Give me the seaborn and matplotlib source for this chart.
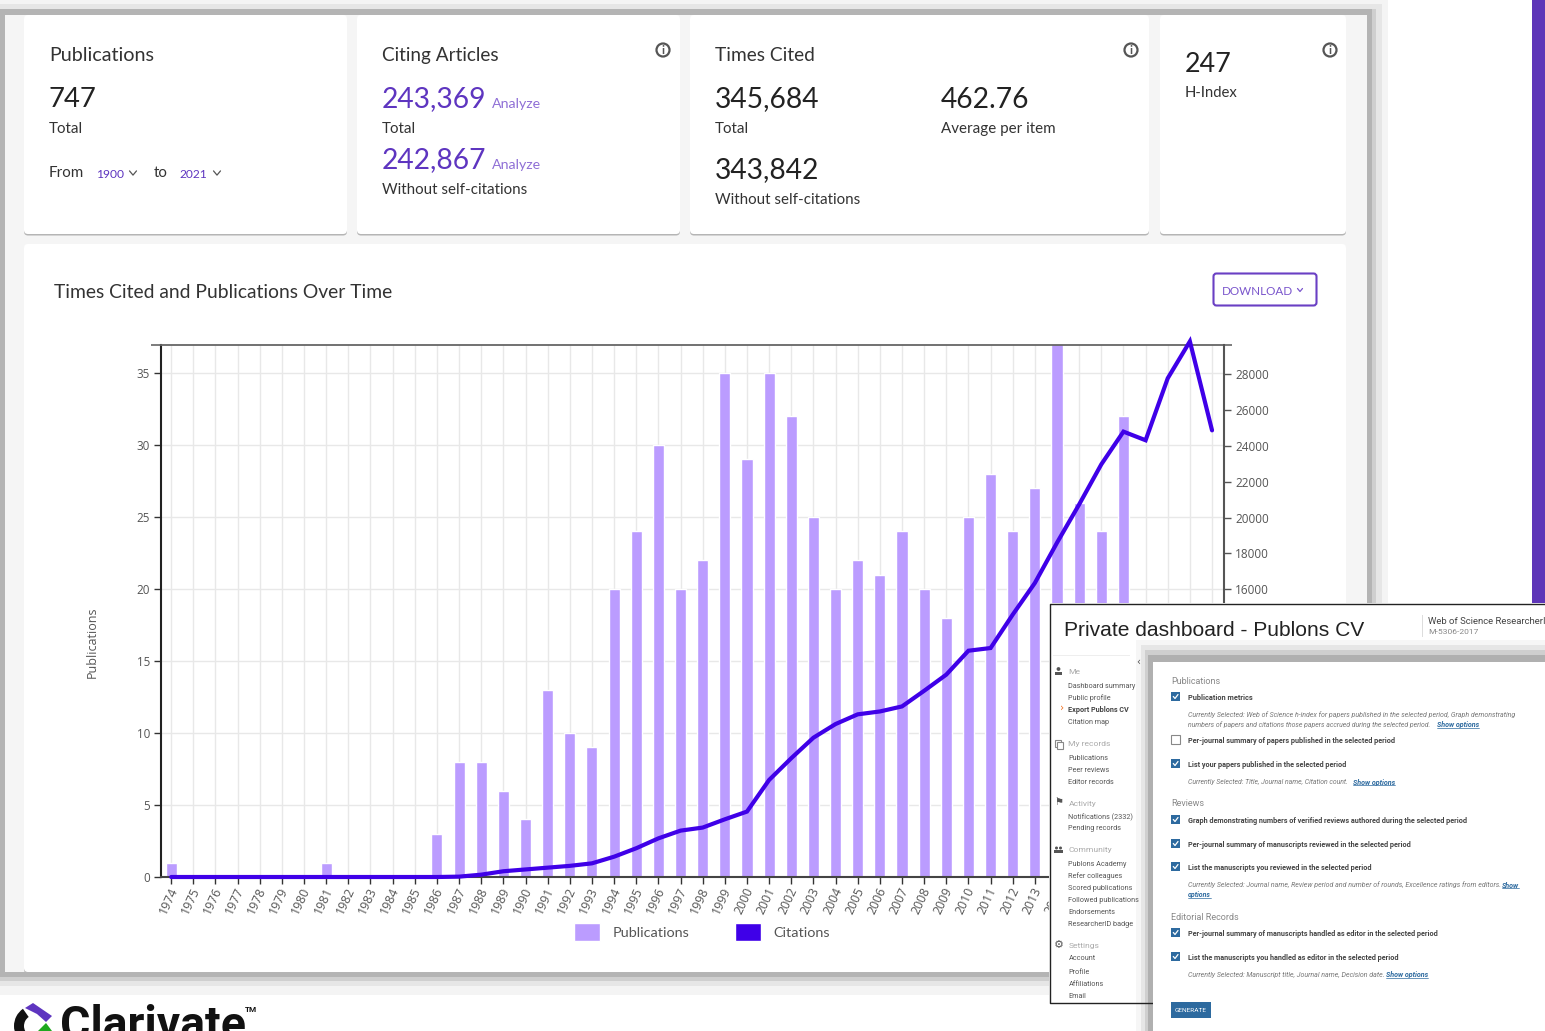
import numpy as np
import pandas as pd
import matplotlib
matplotlib.use("Agg")
import matplotlib.pyplot as plt
from matplotlib.patches import Rectangle, FancyBboxPatch, Circle, Polygon, Wedge, Patch
from matplotlib.transforms import ScaledTranslation
import seaborn as sns

years = [str(y) for y in range(1974, 2022)]
publications = [1, 0, 0, 0, 0, 0, 0, 1, 0, 0, 0, 0, 3, 8, 8, 6, 4, 13, 10, 9,
                20, 24, 30, 20, 22, 35, 29, 35, 32, 25, 20, 22, 21, 24, 20, 18,
                25, 28, 24, 27, 40, 26, 24, 32, 16, 18, 15, 12]
citations = [0, 0, 0, 0, 0, 0, 0, 0, 0, 0, 0, 0, 0, 20, 130, 320, 420, 520, 620, 760,
             1130, 1600, 2150, 2580, 2750, 3210, 3640, 5400, 6610, 7750, 8510, 9050,
             9210, 9490, 10360, 11260, 12590, 12740, 14600, 16360, 18600, 20730,
             22960, 24780, 24300, 27750, 29800, 24850]

W, H = 1545, 1031
PUB_COL, CIT_COL = "#BB9CFF", "#3F00E8"
PURPLE = "#5E35C0"
SANS = "Lato"

sns.set_theme(style="white")
plt.rcParams["font.family"] = ["Open Sans", "DejaVu Sans"]
fig = plt.figure(figsize=(W / 100, H / 100), dpi=100, facecolor="white")


def px_axes(z):
    a = fig.add_axes([0, 0, 1, 1], zorder=z)
    a.set_xlim(0, W)
    a.set_ylim(H, 0)
    a.axis("off")
    a.patch.set_alpha(0)
    return a


bg = px_axes(0)
fg = px_axes(10)
renderer = fig.canvas.get_renderer()


def T(a, x, y, s, size, color="#333333", w=None, family=SANS, **kw):
    if family == SANS:
        y += size * 0.09
    elif family == "Roboto" and "va" not in kw:
        y += 1
    t = a.text(x, y, s, fontsize=size * 0.72, color=color, family=family,
               va=kw.pop("va", "center"), ha=kw.pop("ha", "left"), **kw)
    if w is not None:
        ext = t.get_window_extent(renderer)
        t.set_fontsize(t.get_fontsize() * w / ext.width)
    return t


def R(a, x0, y0, x1, y1, color, z=1, **kw):
    a.add_patch(Rectangle((x0, y0), x1 - x0, y1 - y0, fc=color, ec="none", zorder=z, **kw))


def card(a, x0, y0, x1, y1):
    a.add_patch(FancyBboxPatch((x0, y0 + 1.5), x1 - x0, y1 - y0, boxstyle="round,pad=0,rounding_size=4",
                               fc="#b5b5b5", ec="none", zorder=2))
    a.add_patch(FancyBboxPatch((x0, y0), x1 - x0, y1 - y0, boxstyle="round,pad=0,rounding_size=4",
                               fc="white", ec="none", zorder=3))


def chevron(a, cx, cy, color, s=3.5):
    a.plot([cx - s, cx, cx + s], [cy - s * 0.6, cy + s * 0.6, cy - s * 0.6], color=color, lw=0.9, zorder=6)


def info(a, cx, cy):
    a.add_patch(Circle((cx, cy), 6.5, fc="white", ec="#555555", lw=1.6, zorder=5))
    T(a, cx, cy - 0.5, "i", 12, "#555555", ha="center", zorder=6, weight="bold")


# main panel with pixelated shadow
for (x0, y0, x1, y1, c) in [
    (0, 0, 1388, 995, "#f4f4f4"), (0, 4, 1382, 986, "#e6e6e6"),
    (0, 9, 1376, 981, "#cfcfcf"), (0, 9, 1372, 977, "#b4b4b4"),
]:
    R(bg, x0, y0, x1, y1, c, 1)
R(bg, 5, 15, 1367, 972, "#f5f5f5", 1.5)

for box in [(24, 15, 347, 234), (357, 15, 680, 234), (690, 15, 1149, 234),
            (1160, 15, 1346, 234), (24, 244, 1346, 972)]:
    card(bg, *box)

R(bg, 1532, 0, 1545, 603, "#5E35B8", 1)

# summary cards
z = {"zorder": 6}
T(bg, 49, 54, "Publications", 20, w=105, **z)
T(bg, 49, 97, "747", 31, "#222222", w=48, **z)
T(bg, 49, 128, "Total", 16, w=34, **z)
T(bg, 49, 172, "From", 16, w=35, **z)
T(bg, 96, 173, "1900", 13, PURPLE, w=28, **z)
chevron(bg, 133, 173, "#555555")
T(bg, 154, 172, "to", 16, w=14, **z)
T(bg, 179, 173, "2021", 13, PURPLE, w=28, **z)
chevron(bg, 217, 173, "#555555")

T(bg, 382, 54, "Citing Articles", 20, w=117, **z)
T(bg, 382, 96, "243,369", 31, PURPLE, w=105, **z)
T(bg, 492, 103, "Analyze", 15, "#8f6fd6", w=49, **z)
T(bg, 382, 128, "Total", 16, w=34, **z)
T(bg, 382, 157, "242,867", 31, PURPLE, w=105, **z)
T(bg, 492, 164, "Analyze", 15, "#8f6fd6", w=49, **z)
T(bg, 382, 189, "Without self-citations", 16, w=145, **z)
info(bg, 663, 50)

T(bg, 715, 54, "Times Cited", 20, w=100, **z)
T(bg, 715, 96, "345,684", 31, "#222222", w=105, **z)
T(bg, 941, 97, "462.76", 31, "#222222", w=89, **z)
T(bg, 715, 128, "Total", 16, w=34, **z)
T(bg, 941, 128, "Average per item", 16, w=114, **z)
T(bg, 715, 167, "343,842", 31, "#222222", w=105, **z)
T(bg, 715, 199, "Without self-citations", 16, w=145, **z)
info(bg, 1131, 50)

T(bg, 1185, 62, "247", 31, "#222222", w=47, **z)
T(bg, 1185, 92, "H-Index", 16, w=53, **z)
info(bg, 1330, 50)

T(bg, 54, 291, "Times Cited and Publications Over Time", 21, w=337, **z)
bg.add_patch(FancyBboxPatch((1213.5, 273.5), 103, 32, boxstyle="round,pad=0,rounding_size=3",
                            fc="white", ec="#6a3fc4", lw=1.5, zorder=5))
T(bg, 1222, 290, "DOWNLOAD", 14, "#7a55cc", w=71, **z)
chevron(bg, 1300, 290, "#7a55cc", 2.5)

# chart
ax = fig.add_axes([161 / W, 1 - 877 / H, (1224 - 161) / W, (877 - 345) / H], zorder=2)
ax.patch.set_alpha(0)
data = pd.DataFrame({"Year": years, "Publications": publications, "Citations": citations})
sns.barplot(data=data, x="Year", y="Publications", color=PUB_COL, saturation=1, width=0.5, ax=ax, zorder=2)
XLIM = (-0.46, len(years) - 0.46)
ax.set_xlim(*XLIM)
ax.set_ylim(0, 36.95)
ax.set_yticks(range(0, 36, 5))
ax.grid(True, color="#e8e8e8", lw=1)
ax.set_axisbelow(True)
ax.set_xlabel("")
ax.set_ylabel("Publications", fontsize=9, color="#555555", y=0.442, labelpad=27)
ax.tick_params(axis="y", length=5, width=1, color="#333333", labelsize=8.4, labelcolor="#555555", pad=3, left=True)
ax.tick_params(axis="x", length=5, width=1, color="#333333", pad=3, bottom=True)
ax.set_yticks([36.95], minor=True)
ax.tick_params(axis="y", which="minor", length=7, width=1.2, color="#666666", left=True)
shift = ScaledTranslation(3 / 100, 0, fig.dpi_scale_trans)
for lab in ax.get_xticklabels():
    lab.set_rotation(65)
    lab.set_ha("right")
    lab.set_va("center")
    lab.set_rotation_mode("anchor")
    lab.set_fontsize(8.8)
    lab.set_color("#555555")
    lab.set_transform(lab.get_transform() + shift)
for name, sp in ax.spines.items():
    sp.set_visible(name in ("left", "bottom", "top"))
ax.spines["left"].set(color="#222222", lw=1.5)
ax.spines["bottom"].set(color="#444444", lw=1.5)
ax.spines["top"].set(color="#666666", lw=1.3)

ax2 = ax.twinx()
ax2.patch.set_alpha(0)
ax2.set_zorder(3)
sns.lineplot(x=np.arange(len(years)), y=citations, color=CIT_COL, lw=3, ax=ax2, clip_on=False,
             solid_joinstyle="miter", zorder=5)
TOP = 29600
ax2.set_ylim(0, TOP)
ax2.set_yticks(range(16000, 28001, 2000))
ax2.set_ylabel("")
ax2.grid(False)
ax2.tick_params(axis="y", length=5, width=1, color="#555555", labelsize=8.5, labelcolor="#555555", pad=3, right=True)
for name, sp in ax2.spines.items():
    sp.set_visible(name == "right")
ax2.spines["right"].set(color="#555555", lw=1.5)
ax2.set_yticks([TOP], minor=True)
ax2.tick_params(axis="y", which="minor", length=6, width=1.2, color="#666666", right=True)
ax2.set_xlim(*XLIM)
ax2.legend(handles=[Patch(fc=PUB_COL, label="Publications"), Patch(fc=CIT_COL, label="Citations")],
           loc="center left", bbox_to_anchor=(574 / W, 1 - 932 / H), bbox_transform=fig.transFigure,
           ncol=2, frameon=False, borderaxespad=0, borderpad=0, labelcolor="#555555",
           handlelength=1.8, handleheight=1.6, handletextpad=0.9, columnspacing=3.1,
           prop={"family": SANS, "size": 10.4})

# Clarivate logo
bg.add_patch(Wedge((35, 1026), 21, 125, 235, width=10, fc="#111111", ec="none", zorder=6))
bg.add_patch(Polygon([(25, 1008), (33, 1003), (52, 1016), (46, 1022), (37, 1014)], fc=PURPLE, ec="none", zorder=6))
bg.add_patch(Polygon([(38, 1031), (46, 1023), (52, 1031)], fc="#1fa81f", ec="none", zorder=6))
T(bg, 60, 1039, "Clarivate", 40, "#111111", w=186, family="Roboto", weight="bold", va="baseline", zorder=6)
T(bg, 245, 1008, "TM", 8, "#111111", w=12, family="Roboto", weight="bold", zorder=6)

# overlay panel 1: private dashboard
R(fg, 1049, 603, 1546, 1002, "white", 1)
T(fg, 1064, 630, "Private dashboard - Publons CV", 22, "#222222", w=299, family="Liberation Sans", zorder=3)
R(fg, 1422, 615, 1423, 637, "#dddddd", 3)
T(fg, 1428, 620, "Web of Science ResearcherID", 9.5, "#444444", family="Roboto", zorder=3)
T(fg, 1428, 631, "M-5306-2017", 8.5, "#888888", family="Roboto", zorder=3)
R(fg, 1053, 655, 1130, 656, "#eeeeee", 3)

SIDE = 5
for (y, s) in [(671, "Me"), (743, "My records"), (803, "Activity"), (849, "Community"), (945, "Settings")]:
    T(fg, 1068.5, y, s, 8.5, "#aaaaaa", family="Roboto", zorder=SIDE)
for (y, s) in [(685, "Dashboard summary"), (697, "Public profile"), (722, "Citation map"),
               (757, "Publications"), (769, "Peer reviews"), (781, "Editor records"),
               (816, "Notifications (2332)"), (828, "Pending records"), (863, "Publons Academy"),
               (875, "Refer colleagues"), (887, "Scored publications"), (899, "Followed publications"),
               (911, "Endorsements"), (924, "ResearcherID badge"), (958, "Account"), (971, "Profile"),
               (983, "Affiliations"), (995, "Email")]:
    T(fg, 1068.5, y, s, 7.3, "#555555", family="Roboto", zorder=SIDE)
T(fg, 1068.5, 709, "Export Publons CV", 7.3, "#444444", family="Roboto", weight="bold", zorder=SIDE)
T(fg, 1060, 708, "\u203a", 10, "#f07020", family="DejaVu Sans", zorder=SIDE)
T(fg, 1136, 662, "\u2039", 10, "#555555", family="DejaVu Sans", zorder=SIDE)
# sidebar icons
fg.add_patch(Circle((1058.5, 669), 1.9, fc="#555555", ec="none", zorder=3))
R(fg, 1055, 672, 1062, 674.5, "#555555", 3)
fg.add_patch(Rectangle((1055, 739.5), 5.5, 7, fc="none", ec="#888888", lw=0.8, zorder=3))
fg.add_patch(Rectangle((1057, 741.5), 5.5, 7, fc="white", ec="#888888", lw=0.8, zorder=3))
T(fg, 1058.5, 802, "\u2691", 10, "#555555", family="DejaVu Sans", ha="center", zorder=3)
fg.add_patch(Circle((1056.5, 848), 1.5, fc="#555555", ec="none", zorder=3))
fg.add_patch(Circle((1060.5, 848), 1.5, fc="#555555", ec="none", zorder=3))
R(fg, 1054, 850, 1063, 852.5, "#555555", 3)
T(fg, 1058.5, 945, "\u2699", 11, "#555555", family="DejaVu Sans", ha="center", zorder=3)

# overlay panel 2: options, with shadow
for (x0, y0, c) in [(1136, 640, "#f6f6f6"), (1141, 645, "#e6e6e6"), (1145, 650, "#cfcfcf"), (1148, 655, "#b0b0b0")]:
    R(fg, x0, y0, 1546, 1032, c, 4)
R(fg, 1153, 662, 1546, 1032, "white", 4.5)
fg.plot([1545, 1049.5, 1049.5, 1153], [603.5, 603.5, 1002.5, 1002.5], color="#222222", lw=1, zorder=4.2)

LBL = {"zorder": 6, "family": "Roboto"}


def head(y, s):
    T(fg, 1171, y, s, 9, "#888888", **LBL)


def check(y, s, on=True, w=None):
    if on:
        fg.add_patch(Rectangle((1171, y - 5), 9, 9, fc="#2d6a9f", ec="none", zorder=6))
        fg.plot([1173.3, 1175, 1178], [y - 0.5, y + 1.5, y - 2.5], color="white", lw=0.9, zorder=7)
    else:
        fg.add_patch(Rectangle((1171, y - 5), 9, 9, fc="white", ec="#888888", lw=0.8, zorder=6))
    T(fg, 1188, y, s, 7, "#444444", w=w, weight="bold", **LBL)


def note(y, s, w=None, link=None, link_x=None, link_w=None):
    T(fg, 1188, y, s, 7, "#777777", w=w, style="italic", **LBL)
    if link:
        T(fg, link_x, y, link, 7, "#2d6a9f", w=link_w, weight="bold", style="italic", **LBL)
        fg.plot([link_x, link_x + link_w], [y + 4, y + 4], color="#2d6a9f", lw=0.5, zorder=6)


head(680, "Publications")
check(697, "Publication metrics", w=64)
note(714, "Currently Selected: Web of Science h-index for papers published in the selected period, Graph demonstrating", w=326)
note(724, "numbers of papers and citations those papers accrued during the selected period.", w=245,
     link="Show options", link_x=1437, link_w=42)
check(740, "Per-journal summary of papers published in the selected period", on=False, w=208)
check(764, "List your papers published in the selected period", w=159)
note(781, "Currently Selected: Title, Journal name, Citation count.", w=161, link="Show options", link_x=1353, link_w=42)
head(803, "Reviews")
check(820, "Graph demonstrating numbers of verified reviews authored during the selected period", w=280)
check(844, "Per-journal summary of manuscripts reviewed in the selected period", w=224)
check(867, "List the manuscripts you reviewed in the selected period", w=184)
note(884, "Currently Selected: Journal name, Review period and number of rounds, Excellence ratings from editors.", w=311,
     link="Show", link_x=1502, link_w=17)
T(fg, 1188, 894, "options", 7, "#2d6a9f", w=23, weight="bold", style="italic", **LBL)
fg.plot([1188, 1211], [898, 898], color="#2d6a9f", lw=0.5, zorder=6)
head(916, "Editorial Records")
check(933, "Per-journal summary of manuscripts handled as editor in the selected period", w=251)
check(957, "List the manuscripts you handled as editor in the selected period", w=212)
note(974, "Currently Selected: Manuscript title, Journal name, Decision date.", w=195, link="Show options", link_x=1386, link_w=42)
R(fg, 1171, 1002, 1211, 1018, "#2d6a9f", 6)
T(fg, 1191, 1009.5, "GENERATE", 6.5, "white", w=32, ha="center", zorder=7, family="Roboto")

fig.savefig("out.png", dpi=100, facecolor="white")
